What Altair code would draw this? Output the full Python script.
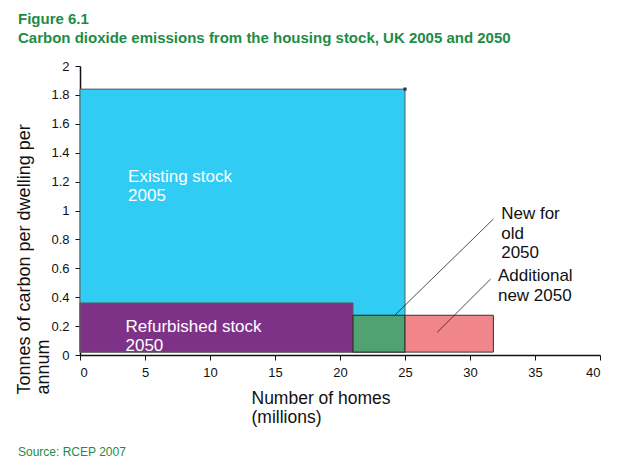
import altair as alt
import pandas as pd

FONT = "Liberation Sans"

# ---- data ----
categories = ["Existing stock 2005", "Refurbished stock 2050", "New for old 2050", "Additional new 2050"]
x_start = [0, 0, 21, 25]
x_end = [25, 21, 25, 31.8]
y_base = [0.02, 0.02, 0.02, 0.02]
y_top = [1.84, 0.36, 0.275, 0.275]
fills = ["#30CCF4", "#7E3287", "#50A272", "#F0868A"]
strokes = ["#5a5a5a", "#5a5a5a", "#222222", "#333333"]

inbar_labels = ["Existing stock\n2005", "Refurbished stock\n2050"]
inbar_x = [3.7, 3.5]
inbar_y = [1.195, 0.157]

callout_labels = ["New for\nold\n2050", "Additional\nnew 2050"]
callout_x = [32.4, 32.15]
callout_y = [0.94, 0.512]

leader_x1 = [24.23, 27.48]
leader_y1 = [0.277, 0.157]
leader_x2 = [31.8, 31.59]
leader_y2 = [0.941, 0.526]

corner_x = [25]
corner_y = [1.84]

x_ticks = [0, 5, 10, 15, 20, 25, 30, 35, 40]
y_ticks = [0, 0.2, 0.4, 0.6, 0.8, 1, 1.2, 1.4, 1.6, 1.8, 2]

title_lines = ["Figure 6.1", "Carbon dioxide emissions from the housing stock, UK 2005 and 2050"]
source_text = ["Source: RCEP 2007"]

# ---- tables ----
bars = pd.DataFrame({"cat": categories, "x0": x_start, "x1": x_end, "y0": y_base, "y1": y_top})
inbar = pd.DataFrame({"label": inbar_labels, "x": inbar_x, "y": inbar_y})
callouts = pd.DataFrame({"label": callout_labels, "x": callout_x, "y": callout_y})
leaders = pd.DataFrame({"x1": leader_x1, "y1": leader_y1, "x2": leader_x2, "y2": leader_y2})
corner = pd.DataFrame({"x": corner_x, "y": corner_y})
source = pd.DataFrame({"t": source_text})

xs = alt.Scale(domain=[0, 40], nice=False)
ys = alt.Scale(domain=[0, 2], nice=False)

x_axis = alt.Axis(
    values=x_ticks, format="~g", grid=False, labelOverlap=False,
    title=["Number of homes", "(millions)"],
    titleX=171, titleY=48, titleAlign="left", titleBaseline="alphabetic",
    titleFontSize=17.5, titleFontWeight="normal", titleLineHeight=19, titleColor="#111",
)
y_axis = alt.Axis(
    values=y_ticks, format="~g", grid=False, labelOverlap=False,
    title=["Tonnes of carbon per dwelling per", "annum"],
    titleAngle=270, titleAlign="left", titleBaseline="top",
    titleX=-65, titleY=328,
    titleFontSize=18, titleFontWeight="normal", titleLineHeight=19, titleColor="#111",
)


def X(field):
    return alt.X(field, scale=xs, axis=x_axis)


def Y(field):
    return alt.Y(field, scale=ys, axis=y_axis)


rects = alt.Chart(bars).mark_rect(strokeWidth=1).encode(
    x=X("x0:Q"),
    x2="x1:Q",
    y=Y("y0:Q"),
    y2="y1:Q",
    color=alt.Color("cat:N", scale=alt.Scale(domain=categories, range=fills), legend=None),
    stroke=alt.Stroke("cat:N", scale=alt.Scale(domain=categories, range=strokes), legend=None),
)

inbar_text = alt.Chart(inbar).mark_text(
    align="left", baseline="alphabetic", lineBreak="\n", lineHeight=18.5,
    font=FONT, fontSize=17, color="white",
).encode(x=X("x:Q"), y=Y("y:Q"), text="label:N")

callout_text = alt.Chart(callouts).mark_text(
    align="left", baseline="alphabetic", lineBreak="\n", lineHeight=19.5,
    font=FONT, fontSize=17, color="#111",
).encode(x=X("x:Q"), y=Y("y:Q"), text="label:N")

leader_lines = alt.Chart(leaders).mark_rule(color="#222", strokeWidth=0.8).encode(
    x=X("x1:Q"), y=Y("y1:Q"), x2="x2:Q", y2="y2:Q",
)

corner_mark = alt.Chart(corner).mark_square(size=10, color="#223355", opacity=1).encode(
    x=X("x:Q"), y=Y("y:Q"),
)

source_mark = alt.Chart(source).mark_text(
    align="left", baseline="alphabetic", font=FONT, fontSize=12, color="#1E8C45",
).encode(x=alt.value(-62), y=alt.value(390), text="t:N")

chart = alt.layer(rects, leader_lines, inbar_text, callout_text, corner_mark, source_mark).properties(
    width=520,
    height=289,
    autosize=alt.AutoSizeParams(type="none"),
    padding={"left": 72, "top": 58, "right": 28, "bottom": 111},
    title=alt.TitleParams(
        text=title_lines, anchor="start", frame="group", dx=-62, dy=-10,
        font=FONT, fontSize=15, fontWeight="bold", color="#1E8C45", lineHeight=19,
    ),
).configure_view(strokeWidth=0).configure_axis(
    labelFont=FONT, titleFont=FONT, labelFontSize=13, labelColor="#111",
    domainColor="#111", domainWidth=1.5, tickColor="#111", tickWidth=1, tickSize=5,
    labelPadding=6,
)

chart.save("out.html", embed_options={"renderer": "svg", "actions": False})
